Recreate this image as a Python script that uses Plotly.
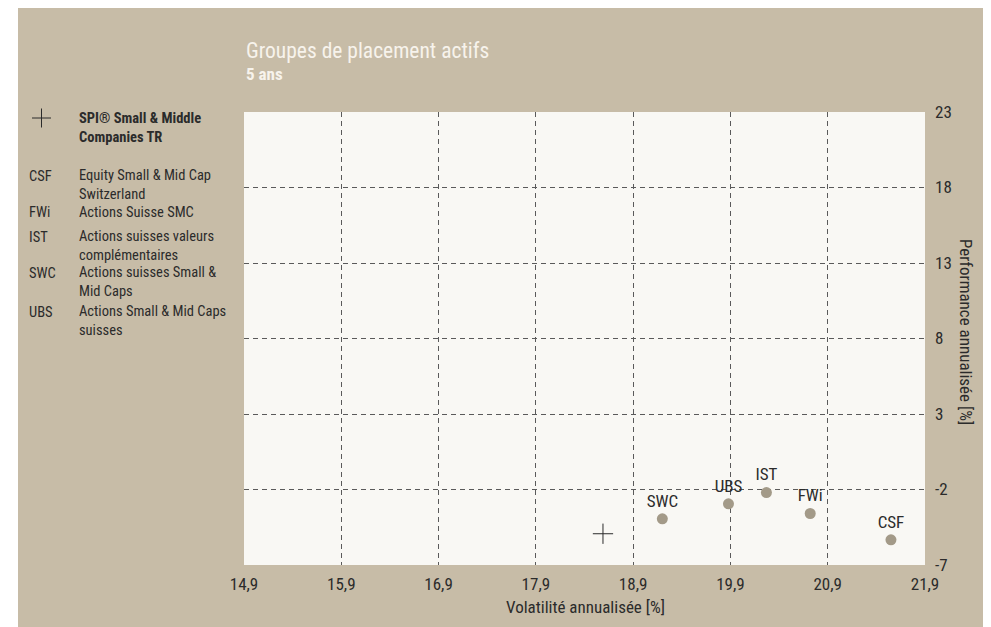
import plotly.graph_objects as go

# ---- data ----
fund_codes = ["CSF", "FWi", "IST", "SWC", "UBS"]
fund_names = [["Equity Small & Mid Cap", "Switzerland"], ["Actions Suisse SMC"],
              ["Actions suisses valeurs", "complémentaires"], ["Actions suisses Small &", "Mid Caps"],
              ["Actions Small & Mid Caps", "suisses"]]
volatility = [21.55, 20.72, 20.27, 19.20, 19.88]
performance = [-5.33, -3.59, -2.20, -3.94, -2.95]

bench_name = ["SPI® Small & Middle", "Companies TR"]
bench_vol = [18.59]
bench_perf = [-4.93]

x_ticks = [14.9, 15.9, 16.9, 17.9, 18.9, 19.9, 20.9, 21.9]
x_tick_labels = ["14,9", "15,9", "16,9", "17,9", "18,9", "19,9", "20,9", "21,9"]
y_ticks = [-7, -2, 3, 8, 13, 18, 23]
y_tick_labels = ["-7", "-2", "3", "8", "13", "18", "23"]

# ---- layout geometry (pixels, page has an 8px body margin) ----
OFF = 8
W, H = 983, 619
L, R, T, B = 236, 66, 104, 62
PW, PH = W - L - R, H - T - B

def px(x):
    return (x - OFF - L) / PW

def py(y):
    return (H - B - (y - OFF)) / PH

FONT = "Liberation Sans Narrow, Roboto Condensed, Liberation Sans, Arial, sans-serif"
BEIGE = "#c7bca7"
TXT = "#2b2b2b"

fig = go.Figure()
fig.add_trace(go.Scatter(
    x=volatility, y=performance, mode="markers+text", text=fund_codes,
    textposition="top center", textfont=dict(family=FONT, size=17, color=TXT),
    marker=dict(size=11, color="#a39a88"), showlegend=False, cliponaxis=False))
fig.add_trace(go.Scatter(
    x=bench_vol, y=bench_perf, mode="markers",
    marker=dict(symbol="cross-thin", size=14.5, line=dict(width=1, color=TXT), color=TXT),
    showlegend=False))

fig.update_layout(
    width=W, height=H, margin=dict(l=L, r=R, t=T, b=B, pad=0),
    paper_bgcolor=BEIGE, plot_bgcolor="#f9f8f4",
    font=dict(family=FONT, size=16, color=TXT),
    xaxis=dict(range=[14.9, 21.9], tickvals=x_ticks, ticktext=x_tick_labels,
               showgrid=True, gridcolor="#5a5a5a", gridwidth=1, griddash="5px,4px",
               zeroline=False, showline=False, ticks="", ticklabelstandoff=7,
               tickfont=dict(size=17, color=TXT)),
    yaxis=dict(range=[-7, 23], tickvals=y_ticks, ticktext=y_tick_labels, side="right",
               showgrid=True, gridcolor="#5a5a5a", gridwidth=1, griddash="5px,4px",
               zeroline=False, showline=False, ticks="", ticklabelstandoff=9,
               tickfont=dict(size=17, color=TXT)),
)

shapes = [
    dict(type="rect", xref="paper", yref="paper", x0=px(0), x1=px(18), y0=py(H + OFF), y1=py(0),
         fillcolor="white", line=dict(width=0), layer="above"),
    # legend cross symbol
    dict(type="line", xref="paper", yref="paper", x0=px(32), x1=px(51), y0=py(118), y1=py(118),
         line=dict(width=1, color=TXT)),
    dict(type="line", xref="paper", yref="paper", x0=px(41.5), x1=px(41.5), y0=py(108.5), y1=py(127.5),
         line=dict(width=1, color=TXT)),
]
fig.update_layout(shapes=shapes)

ann = []
LEG = 14.5
LINE = LEG * 1.3

def label(text, x, y, size, color=TXT, xanchor="left", angle=0, align="left"):
    ann.append(dict(text=text, x=px(x), y=py(y), xref="paper", yref="paper",
                    xanchor=xanchor, yanchor="middle", showarrow=False, textangle=angle,
                    align=align, font=dict(family=FONT, size=size, color=color)))

# titles
label("Groupes de placement actifs", 244, 51, 21.5, "#f7f3ec")
label("<b>5 ans</b>", 244, 74, 17, "#f7f3ec")
# legend (first-line centre positions in page pixels)
label("<br>".join("<b>" + s + "</b>" for s in bench_name), 77, 119 + LINE / 2, LEG)
legend_rows = [176, 212, 237, 273, 312]
for code, name, yy in zip(fund_codes, fund_names, legend_rows):
    label(code, 27, yy, LEG)
    label("<br>".join(name), 77, yy + LINE * (len(name) - 1) / 2, LEG)
# axis titles
label("Volatilité annualisée [%]", 585, 607, 17, xanchor="center")
label("Performance annualisée [%]", 966, 332, 17, xanchor="center", angle=90)
fig.update_layout(annotations=ann)

fig.write_html("out.html")
